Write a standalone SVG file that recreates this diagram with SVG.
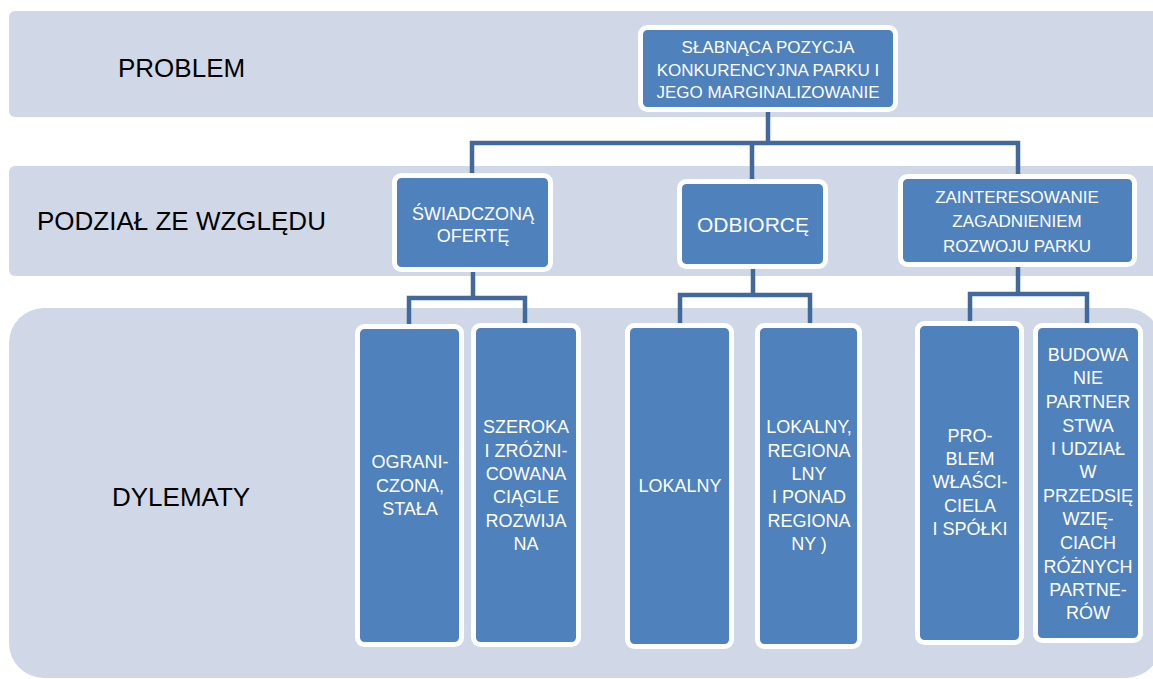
<svg xmlns="http://www.w3.org/2000/svg" width="1153" height="679" viewBox="0 0 1153 679">
<style>
.band{fill:#D0D8E8}
.box{fill:#4F81BD;stroke:#FFFFFF;stroke-width:5}
.lbl{font-family:"Liberation Sans",Arial,sans-serif;font-size:26px;fill:#000}
.t{font-family:"Liberation Sans",Arial,sans-serif;font-size:17px;fill:#FFFFFF;text-anchor:middle}
.t18{font-size:18px}
.t21{font-size:21px}
.conn{fill:none;stroke:#41699C;stroke-width:4.5;stroke-linejoin:miter;stroke-linecap:butt}
</style>
<rect width="1153" height="679" fill="#FFFFFF"/>
<g id="bands">
<rect class="band" x="9" y="11" width="1160" height="106" rx="6"/>
<rect class="band" x="9" y="166" width="1160" height="110" rx="6"/>
<rect class="band" x="9" y="308" width="1152" height="370" rx="35"/>
<text class="lbl" x="118" y="77">PROBLEM</text>
<text class="lbl" x="37" y="230">PODZIAŁ ZE WZGLĘDU</text>
<text class="lbl" x="112" y="506">DYLEMATY</text>
</g>
<g id="connectors">
<path class="conn" d="M472,180 V143 H1018 V178 M768,110 V143 M752,143 V183"/>
<path class="conn" d="M409,328 V298 H525 V327 M473,270 V298"/>
<path class="conn" d="M680,327 V295 H810 V327 M753,267 V295"/>
<path class="conn" d="M970,325 V294 H1087 V327 M1018,265 V294"/>
</g>
<g id="n-problem">
<rect class="box" x="640.5" y="27.5" width="255" height="82" rx="7"/>
<text class="t" x="768" y="53">SŁABNĄCA POZYCJA</text>
<text class="t" x="768" y="75.5">KONKURENCYJNA PARKU I</text>
<text class="t" x="768" y="98">JEGO MARGINALIZOWANIE</text>
</g>
<g id="n-oferta">
<rect class="box" x="394.5" y="175.5" width="156" height="94" rx="7"/>
<text class="t t18" x="473" y="220">ŚWIADCZONĄ</text>
<text class="t t18" x="473" y="242">OFERTĘ</text>
</g>
<g id="n-odbiorca">
<rect class="box" x="679.5" y="181.5" width="146" height="85" rx="7"/>
<text class="t t21" x="753" y="232">ODBIORCĘ</text>
</g>
<g id="n-zainteresowanie">
<rect class="box" x="900.5" y="176.5" width="234" height="88" rx="7"/>
<text class="t" x="1017" y="203">ZAINTERESOWANIE</text>
<text class="t" x="1017" y="227">ZAGADNIENIEM</text>
<text class="t" x="1017" y="251.5">ROZWOJU PARKU</text>
</g>
<g id="n-ograniczona">
<rect class="box" x="357.5" y="326.5" width="104" height="318" rx="7"/>
<text class="t t18" x="410" y="468">OGRANI-</text>
<text class="t t18" x="410" y="492">CZONA,</text>
<text class="t t18" x="410" y="515">STAŁA</text>
</g>
<g id="n-szeroka">
<rect class="box" x="473.5" y="325.5" width="105" height="319" rx="7"/>
<text class="t t18" x="526" y="433">SZEROKA</text>
<text class="t t18" x="526" y="457">I ZRÓŻNI-</text>
<text class="t t18" x="526" y="480">COWANA</text>
<text class="t t18" x="526" y="503">CIĄGLE</text>
<text class="t t18" x="526" y="527">ROZWIJA</text>
<text class="t t18" x="526" y="550">NA</text>
</g>
<g id="n-lokalny">
<rect class="box" x="627.5" y="325.5" width="104" height="321" rx="7"/>
<text class="t t18" x="680" y="492">LOKALNY</text>
</g>
<g id="n-lokalny-regionalny">
<rect class="box" x="757.5" y="325.5" width="102" height="321" rx="7"/>
<text class="t t18" x="809" y="433">LOKALNY,</text>
<text class="t t18" x="809" y="457">REGIONA</text>
<text class="t t18" x="809" y="480">LNY</text>
<text class="t t18" x="809" y="503">I PONAD</text>
<text class="t t18" x="809" y="527">REGIONA</text>
<text class="t t18" x="809" y="550">NY )</text>
</g>
<g id="n-wlasciciel">
<rect class="box" x="917.5" y="323.5" width="104" height="319" rx="7"/>
<text class="t t18" x="970" y="442">PRO-</text>
<text class="t t18" x="970" y="465">BLEM</text>
<text class="t t18" x="970" y="488">WŁAŚCI-</text>
<text class="t t18" x="970" y="512">CIELA</text>
<text class="t t18" x="970" y="535">I SPÓŁKI</text>
</g>
<g id="n-partnerstwo">
<rect class="box" x="1035.5" y="325.5" width="105" height="315" rx="7"/>
<text class="t t18" x="1088" y="361">BUDOWA</text>
<text class="t t18" x="1088" y="384">NIE</text>
<text class="t t18" x="1088" y="408">PARTNER</text>
<text class="t t18" x="1088" y="432">STWA</text>
<text class="t t18" x="1088" y="455">I UDZIAŁ</text>
<text class="t t18" x="1088" y="478">W</text>
<text class="t t18" x="1088" y="502">PRZEDSIĘ</text>
<text class="t t18" x="1088" y="525">WZIĘ-</text>
<text class="t t18" x="1088" y="549">CIACH</text>
<text class="t t18" x="1088" y="573">RÓŻNYCH</text>
<text class="t t18" x="1088" y="596">PARTNE-</text>
<text class="t t18" x="1088" y="619">RÓW</text>
</g>
</svg>
